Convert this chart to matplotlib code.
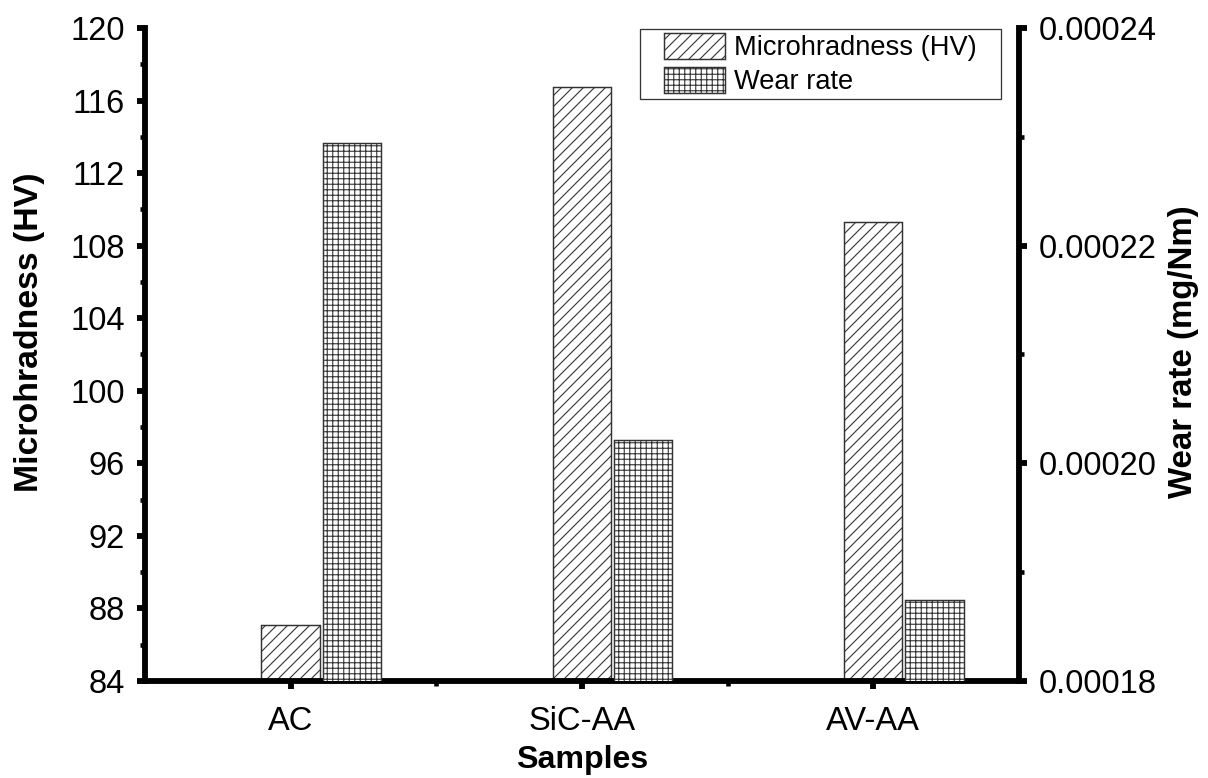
import numpy as np
import matplotlib
matplotlib.use("Agg")
import matplotlib.pyplot as plt
from matplotlib.patches import Rectangle
from matplotlib.ticker import MultipleLocator, FixedLocator

plt.rcParams['font.family'] = ['Liberation Sans', 'DejaVu Sans']
plt.rcParams['hatch.linewidth'] = 0.6

# data
samples = ['AC', 'SiC-AA', 'AV-AA']
hardness = [87.1, 116.75, 109.3]            # HV
wear_rate = [0.0002294, 0.0002021, 0.0001874]  # mg/Nm
wear_ticks = [0.00018, 0.00020, 0.00022, 0.00024]
wear_ticklabels = ['0.00018', '0.00020', '0.00022', '0.00024']

DPI = 132
fig = plt.figure(figsize=(1208 / DPI, 778 / DPI), dpi=DPI)
ax = fig.add_axes([0.12, 0.1247, 0.7235, 0.8393])
ax2 = ax.twinx()

x = np.arange(1, len(samples) + 1)
w = 0.2
b1 = ax.bar(x, hardness, w, color='white', edgecolor='#333333', linewidth=0.8,
            hatch='////', label='Microhradness (HV)', zorder=2)
b2 = ax2.bar(x + 0.21, wear_rate, w, color='white', edgecolor='#333333', linewidth=0.8,
             hatch='++++', label='Wear rate', zorder=2)

ax.set_xlim(0.5, 3.5)
ax.set_ylim(84, 120)
ax2.set_ylim(0.00018, 0.00024)

ax.xaxis.set_major_locator(FixedLocator(x))
ax.xaxis.set_minor_locator(FixedLocator([1.5, 2.5]))
ax.set_xticklabels(samples)
ax.yaxis.set_major_locator(MultipleLocator(4))
ax.yaxis.set_minor_locator(MultipleLocator(2))
ax2.set_yticks(wear_ticks)
ax2.set_yticklabels(wear_ticklabels)
ax2.yaxis.set_minor_locator(MultipleLocator(0.00001))

lw = 3.2
for a in (ax, ax2):
    for s in a.spines.values():
        s.set_linewidth(lw)
    a.spines['top'].set_visible(False)
ax.spines['right'].set_visible(False)
ax2.spines['left'].set_visible(False)
ax2.spines['bottom'].set_visible(False)

ax.tick_params(axis='both', which='major', direction='out', length=4.5, width=3.2,
               labelsize=17.8, pad=6.5)
ax.tick_params(axis='both', which='minor', direction='out', length=2.5, width=2.5)
ax.tick_params(axis='x', which='major', pad=9)
ax2.tick_params(axis='y', which='major', direction='out', length=4.5, width=3.2,
                labelsize=17.8, pad=6.5)
ax2.tick_params(axis='y', which='minor', direction='out', length=2.5, width=2.5)

ax.set_ylabel('Microhradness (HV)', fontsize=18.5, fontweight='bold')
ax2.set_ylabel('Wear rate (mg/Nm)', fontsize=18, fontweight='bold')
ax.set_xlabel('Samples', fontsize=17.5, fontweight='bold')
ax.yaxis.set_label_coords(-0.114, 0.534)
ax2.yaxis.set_label_coords(1.170, 0.504)
ax.xaxis.set_label_coords(0.5, -0.098)

leg = ax2.legend([b1, b2], ['Microhradness (HV)', 'Wear rate'], loc='upper right',
                 bbox_to_anchor=(0.952, 0.9923), borderaxespad=0, borderpad=0,
                 frameon=False, fontsize=14.9, handlelength=2.23, handleheight=1.06,
                 handletextpad=0.33, labelspacing=0.22)

fig.canvas.draw()
bb = leg.get_window_extent()
px, py = 24, 4
fig.patches.append(Rectangle((bb.x0 - px, bb.y0 - py), bb.width + 2 * px, bb.height + 2 * py,
                             transform=None, fill=False, edgecolor='#333333', linewidth=0.7,
                             figure=fig))

fig.savefig('out.png', dpi=DPI)
